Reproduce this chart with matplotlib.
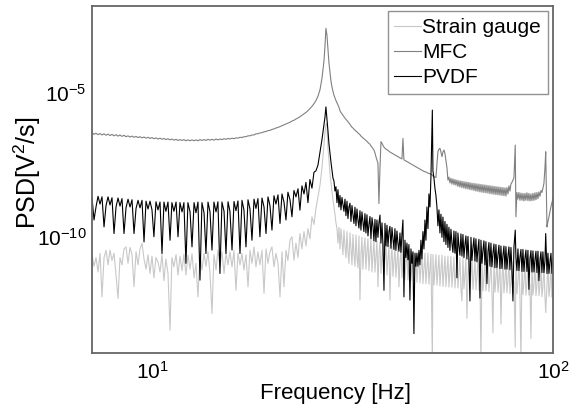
import numpy as np
import matplotlib
matplotlib.use("Agg")
import matplotlib.pyplot as plt
from matplotlib.ticker import NullLocator, FixedLocator, LogFormatterSciNotation

plt.rcParams['font.family'] = ['Liberation Sans', 'DejaVu Sans']
plt.rcParams['mathtext.default'] = 'regular'

# ---------------- data: shared frequency grid (Hz), PSD as log10(V^2/s) ----------------
freq_hz = [
    7.077, 7.159, 7.242, 7.326, 7.410,
    7.496, 7.583, 7.671, 7.760, 7.848,
    7.939, 8.031, 8.124, 8.218, 8.312,
    8.408, 8.506, 8.604, 8.704, 8.804,
    8.906, 9.009, 9.114, 9.219, 9.324,
    9.432, 9.542, 9.652, 9.764, 9.874,
    9.989, 10.10, 10.22, 10.34, 10.46,
    10.58, 10.70, 10.82, 10.95, 11.08,
    11.20, 11.33, 11.47, 11.60, 11.73,
    11.87, 12.00, 12.14, 12.28, 12.43,
    12.57, 12.72, 12.86, 13.01, 13.16,
    13.31, 13.47, 13.62, 13.78, 13.94,
    14.10, 14.26, 14.43, 14.59, 14.76,
    14.93, 15.11, 15.28, 15.46, 15.63,
    15.82, 16.00, 16.18, 16.37, 16.56,
    16.75, 16.94, 17.14, 17.34, 17.54,
    17.74, 17.95, 18.15, 18.36, 18.57,
    18.79, 19.01, 19.23, 19.45, 19.67,
    19.90, 20.13, 20.36, 20.60, 20.84,
    21.08, 21.32, 21.57, 21.81, 22.07,
    22.32, 22.58, 22.84, 23.11, 23.37,
    23.64, 23.92, 24.19, 24.47, 24.75,
    25.04, 25.33, 25.62, 25.92, 26.22,
    26.52, 26.83, 26.98, 27.13,
    27.29, 27.44, 27.60, 27.77, 27.93, 28.09, 28.25, 28.41, 28.58, 28.74,
    28.91, 29.07, 29.24, 29.41, 29.58, 29.75, 29.92, 30.09, 30.27, 30.44,
    30.62, 30.79, 30.97, 31.15, 31.33, 31.51, 31.69, 31.87, 32.06, 32.24,
    32.43, 32.61, 32.80, 32.99, 33.18, 33.37, 33.56, 33.75, 33.95, 34.14,
    34.34, 34.54, 34.74, 34.94, 35.14, 35.35, 35.55, 35.75, 35.96, 36.16,
    36.37, 36.58, 36.79, 37.01, 37.22, 37.44, 37.65, 37.87, 38.09, 38.31,
    38.53, 38.75, 38.97, 39.19, 39.42, 39.65, 39.87, 40.10, 40.33, 40.56,
    40.80, 41.03, 41.27, 41.51, 41.75, 41.99, 42.23, 42.47, 42.72, 42.96,
    43.21, 43.46, 43.71, 43.96, 44.22, 44.47, 44.73, 44.98, 45.24, 45.50,
    45.77, 46.03, 46.30, 46.56, 46.83, 47.10, 47.37, 47.65, 47.92, 48.19,
    48.47, 48.75, 49.03, 49.32, 49.60, 50.00, 50.17, 50.46, 50.75, 51.04,
    51.34, 51.63, 51.93, 52.23, 52.53, 52.84, 53.14, 53.45, 53.76, 54.06,
    54.38, 54.69, 55.00, 55.32, 55.64, 55.96, 56.28, 56.61, 56.93, 57.26,
    57.59, 57.92, 58.25, 58.59, 58.93, 59.27, 59.61, 59.95, 60.30, 60.64,
    60.99, 61.35, 61.70, 62.06, 62.42, 62.78, 63.14, 63.50, 63.87, 64.23,
    64.60, 64.98, 65.35, 65.73, 66.11, 66.49, 66.87, 67.25, 67.64, 68.03,
    68.42, 68.82, 69.21, 69.61, 70.01, 70.42, 70.82, 71.23, 71.64, 72.05,
    72.47, 72.89, 73.31, 73.73, 74.15, 74.58, 75.01, 75.44, 75.88, 76.31,
    76.75, 77.19, 77.64, 78.09, 78.54, 78.99, 79.44, 79.90, 80.50, 80.82,
    81.29, 81.76, 82.23, 82.70, 83.18, 83.66, 84.14, 84.62, 85.11, 85.60,
    86.09, 86.59, 87.09, 87.59, 88.10, 88.61, 89.12, 89.63, 90.15, 90.67,
    91.19, 91.72, 92.24, 92.77, 93.31, 93.84, 94.38, 94.93, 95.48, 95.90,
    96.59, 97.14, 97.70, 98.26, 98.83, 99.39, 100.0]

strain_gauge_log_psd = [
    -10.60, -11.00, -10.70, -11.20, -10.55,
    -12.06, -10.70, -10.45, -10.95, -10.44,
    -10.80, -10.55, -11.30, -12.11, -10.70,
    -10.95, -10.40, -10.33, -10.90, -10.35,
    -10.60, -11.71, -10.50, -10.95, -10.40,
    -10.21, -10.75, -11.10, -10.60, -11.25,
    -10.65, -11.40, -10.70, -10.85, -11.20,
    -10.60, -11.50, -10.75, -11.25, -13.21,
    -10.70, -11.02, -10.60, -11.30, -10.65,
    -11.15, -10.58, -11.30, -10.62, -11.10,
    -10.56, -11.40, -10.90, -12.06, -10.60,
    -11.13, -10.56, -11.00, -10.50, -11.25,
    -12.63, -10.60, -11.13, -10.44, -11.00,
    -10.50, -11.25, -10.55, -10.95, -10.50,
    -11.02, -10.46, -11.83, -10.55, -10.95,
    -10.56, -11.13, -10.60, -11.71, -10.45,
    -10.90, -10.33, -11.02, -10.50, -10.95,
    -10.45, -11.94, -10.40, -10.90, -10.50,
    -10.33, -11.02, -10.55, -10.90, -12.06,
    -10.50, -11.71, -10.45, -10.80, -10.10,
    -9.98, -10.79, -10.20, -10.70, -9.87,
    -10.40, -9.80, -10.30, -9.70, -10.05,
    -9.29, -9.55, -9.00, -8.60, -8.20,
    -7.60, -6.80, -6.40, -6.10,
    -6.05, -6.90, -7.30, -7.80, -8.10, -8.40, -8.70, -8.95, -9.20, -9.50,
    -9.70, -10.20, -9.65, -10.40, -9.70, -10.10, -10.60, -9.75, -10.30, -10.70,
    -9.80, -10.50, -10.90, -9.85, -10.40, -10.95, -9.90, -10.60, -11.00, -9.92,
    -10.70, -11.05, -9.95, -12.17, -10.60, -10.00, -11.10, -10.40, -10.02, -11.10,
    -10.50, -10.05, -11.15, -10.55, -10.08, -11.20, -10.60, -10.10, -11.20, -10.65,
    -10.12, -11.71, -10.60, -10.15, -11.25, -10.65, -10.20, -11.25, -10.70, -10.25,
    -11.30, -10.75, -10.28, -12.17, -10.80, -10.30, -11.35, -10.82, -10.32, -11.38,
    -10.85, -10.35, -11.71, -10.88, -10.38, -11.40, -10.90, -10.40, -11.45, -10.92,
    -10.45, -11.48, -10.95, -10.48, -11.50, -10.98, -10.50, -11.52, -11.00, -10.52,
    -11.55, -11.02, -10.53, -11.58, -11.05, -10.54, -11.60, -11.05, -10.55, -11.60,
    -11.08, -10.55, -11.62, -11.10, -10.58, -14.30, -10.60, -11.65, -11.10, -10.60,
    -11.65, -11.12, -10.62, -11.68, -11.15, -10.62, -11.70, -11.15, -10.65, -11.70,
    -11.18, -10.65, -11.72, -11.20, -10.66, -11.72, -11.20, -10.68, -11.75, -11.22,
    -10.68, -11.75, -11.25, -10.70, -11.78, -12.20, -10.70, -11.78, -11.28, -10.72,
    -12.80, -11.30, -10.72, -11.80, -11.30, -10.74, -11.80, -11.32, -10.75, -11.82,
    -11.35, -10.75, -11.83, -11.35, -14.30, -10.76, -11.85, -11.38, -10.77, -11.85,
    -11.40, -10.78, -11.88, -11.40, -10.78, -11.88, -13.30, -10.79, -11.90, -11.42,
    -10.80, -11.90, -11.45, -10.80, -13.00, -11.45, -10.81, -11.92, -11.48, -10.82,
    -11.92, -11.50, -10.83, -11.95, -11.50, -10.84, -11.95, -11.52, -13.80, -10.85,
    -11.95, -11.55, -10.85, -11.98, -14.30, -10.86, -11.98, -11.58, -10.87, -12.00,
    -11.60, -10.88, -12.00, -11.62, -13.50, -10.88, -12.00, -11.65, -10.89, -12.02,
    -11.65, -10.90, -12.02, -11.68, -10.90, -12.05, -11.70, -10.90, -12.05, -12.60,
    -11.70, -10.92, -12.05, -11.72, -10.92, -12.08, -11.83]

mfc_log_psd = [
    -6.38, -6.44, -6.40, -6.45, -6.41,
    -6.46, -6.42, -6.47, -6.43, -6.48,
    -6.44, -6.49, -6.45, -6.50, -6.46,
    -6.51, -6.47, -6.52, -6.49, -6.53,
    -6.50, -6.54, -6.51, -6.55, -6.52,
    -6.56, -6.53, -6.57, -6.54, -6.58,
    -6.55, -6.59, -6.56, -6.60, -6.57,
    -6.61, -6.58, -6.62, -6.59, -6.63,
    -6.60, -6.64, -6.61, -6.65, -6.62,
    -6.65, -6.62, -6.66, -6.63, -6.66,
    -6.63, -6.66, -6.63, -6.66, -6.62,
    -6.65, -6.62, -6.65, -6.61, -6.64,
    -6.61, -6.64, -6.60, -6.63, -6.60,
    -6.62, -6.59, -6.61, -6.58, -6.60,
    -6.57, -6.59, -6.56, -6.57, -6.54,
    -6.55, -6.52, -6.52, -6.49, -6.49,
    -6.46, -6.46, -6.42, -6.42, -6.39,
    -6.38, -6.35, -6.34, -6.31, -6.30,
    -6.27, -6.25, -6.22, -6.20, -6.17,
    -6.14, -6.11, -6.08, -6.05, -6.02,
    -5.98, -5.95, -5.91, -5.87, -5.83,
    -5.78, -5.73, -5.68, -5.62, -5.55,
    -5.47, -5.38, -5.27, -5.12, -4.90,
    -4.50, -3.90, -3.40, -2.77,
    -3.00, -3.45, -3.95, -4.30, -4.60, -4.80, -4.95, -5.08, -5.18, -5.27,
    -5.35, -5.42, -5.50, -5.62, -5.68, -5.73, -5.78, -5.83, -5.88, -5.92,
    -5.96, -6.00, -6.05, -6.09, -6.15, -6.19, -6.22, -6.26, -6.29, -6.33,
    -6.35, -6.39, -6.42, -6.45, -6.50, -6.53, -6.56, -6.59, -6.62, -6.65,
    -6.68, -6.72, -6.75, -6.78, -6.84, -6.88, -6.93, -6.98, -7.08, -7.21,
    -7.32, -7.44, -8.83, -7.60, -6.69, -6.75, -6.82, -6.88, -6.92, -6.95,
    -6.97, -7.00, -7.02, -7.05, -7.07, -7.09, -7.11, -7.13, -7.15, -7.17,
    -7.19, -7.21, -7.23, -7.25, -7.27, -7.29, -6.58, -7.32, -7.34, -7.36,
    -7.38, -7.40, -7.42, -7.44, -7.46, -7.48, -7.50, -7.52, -7.54, -7.56,
    -7.58, -7.60, -7.62, -7.64, -7.66, -7.68, -7.70, -7.72, -7.73, -7.74,
    -7.76, -7.78, -7.79, -7.80, -7.82, -7.85, -7.88, -7.90, -7.92, -7.93,
    -7.50, -7.04, -6.95, -6.92, -7.05, -7.21, -7.05, -6.98, -7.10, -7.33,
    -7.60, -8.02, -7.92, -8.12, -7.96, -8.16, -7.98, -8.18, -8.00, -8.20,
    -8.02, -8.24, -8.04, -8.26, -8.05, -8.28, -8.07, -8.30, -8.08, -8.32,
    -8.09, -8.33, -8.10, -8.35, -8.12, -8.36, -8.13, -8.38, -8.14, -8.40,
    -8.15, -8.41, -8.16, -8.43, -8.17, -8.44, -8.18, -8.45, -8.19, -8.46,
    -8.20, -8.47, -8.21, -8.49, -8.22, -8.50, -8.23, -8.51, -8.24, -8.52,
    -8.25, -8.53, -8.26, -8.54, -8.27, -8.55, -8.28, -8.56, -8.29, -8.57,
    -8.28, -8.50, -8.22, -8.40, -8.15, -8.10, -8.02, -7.95, -6.81, -9.29,
    -8.45, -8.68, -8.45, -8.72, -8.47, -8.72, -8.48, -8.74, -8.48, -8.72,
    -8.46, -8.73, -8.48, -8.74, -8.50, -8.73, -8.48, -8.72, -8.46, -8.70,
    -8.45, -8.66, -8.43, -8.58, -8.38, -8.45, -8.30, -8.13, -7.60, -7.04,
    -9.64, -9.45, -9.30, -9.12, -8.94, -8.80, -8.65]

pvdf_log_psd = [
    -8.62, -9.40, -8.95, -8.58, -8.85,
    -8.60, -9.64, -8.90, -8.60, -8.88,
    -8.63, -9.87, -8.95, -8.64, -8.92,
    -8.66, -9.87, -8.98, -8.68, -8.95,
    -8.70, -9.87, -9.00, -8.72, -8.98,
    -8.72, -10.16, -8.75, -9.02, -8.75,
    -9.05, -9.98, -8.77, -9.05, -8.78,
    -10.56, -8.78, -9.10, -8.78, -10.10,
    -8.80, -9.10, -8.78, -9.98, -8.80,
    -9.12, -8.80, -10.90, -8.80, -9.12,
    -10.33, -8.80, -9.15, -8.78, -11.48,
    -8.80, -9.15, -10.56, -8.78, -9.12,
    -10.44, -8.78, -9.12, -8.77, -11.25,
    -8.78, -9.10, -10.56, -8.77, -9.10,
    -10.44, -8.76, -9.08, -8.74, -10.56,
    -8.72, -9.05, -10.33, -8.70, -9.02,
    -10.10, -8.68, -9.00, -8.66, -9.98,
    -8.64, -8.95, -9.87, -8.60, -8.90,
    -9.75, -8.56, -8.85, -8.53, -9.52,
    -8.50, -8.78, -9.40, -8.44, -8.70,
    -9.29, -8.38, -8.60, -8.32, -9.06,
    -8.22, -8.50, -8.10, -8.80, -8.00,
    -8.30, -7.75, -7.70, -7.50, -7.05,
    -6.62, -6.10, -5.85, -5.49,
    -5.90, -6.29, -6.75, -7.09, -7.40, -7.67, -7.95, -8.05, -8.40, -8.25,
    -8.80, -8.35, -8.95, -8.55, -9.05, -8.62, -8.85, -9.10, -8.68, -9.25,
    -8.75, -9.35, -8.95, -8.82, -9.45, -8.90, -9.20, -9.52, -8.96, -9.60,
    -9.02, -9.40, -9.68, -9.08, -9.75, -9.12, -9.45, -9.80, -9.18, -9.85,
    -9.22, -9.95, -9.55, -9.28, -10.05, -9.32, -9.60, -10.12, -9.38, -10.15,
    -9.40, -10.00, -9.50, -9.23, -10.20, -9.50, -10.25, -11.83, -9.52, -10.30,
    -9.58, -10.32, -9.80, -9.62, -10.38, -9.66, -10.05, -10.42, -9.70, -10.45,
    -9.78, -10.20, -10.48, -9.85, -10.52, -9.88, -9.40, -12.06, -10.10, -10.70,
    -10.20, -10.78, -10.25, -12.17, -10.40, -10.90, -10.50, -13.33, -10.55, -11.00,
    -10.55, -11.00, -10.45, -10.95, -10.10, -10.75, -9.80, -10.40, -9.40, -10.10,
    -8.95, -9.70, -8.50, -8.95, -7.90, -5.60, -7.70, -7.95, -8.30, -8.55,
    -8.95, -9.60, -9.05, -9.85, -9.20, -10.00, -9.30, -10.15, -9.45, -10.25,
    -9.55, -10.35, -9.65, -10.45, -9.72, -10.20, -10.52, -9.78, -10.55, -9.80,
    -11.40, -9.85, -10.30, -10.62, -9.88, -10.65, -9.90, -10.70, -10.25, -9.95,
    -10.75, -9.97, -10.78, -12.20, -10.00, -10.80, -10.35, -10.02, -10.82, -10.05,
    -10.85, -10.40, -10.07, -12.10, -10.10, -10.90, -10.45, -10.12, -10.95, -10.15,
    -11.60, -10.50, -10.18, -11.00, -10.20, -11.02, -10.55, -10.23, -11.05, -10.25,
    -11.05, -10.60, -10.27, -11.08, -10.30, -11.08, -10.62, -10.30, -11.10, -10.32,
    -11.10, -10.65, -10.33, -11.12, -10.35, -11.12, -12.20, -10.35, -9.75, -10.70,
    -11.15, -10.40, -11.15, -10.70, -10.42, -11.18, -10.42, -11.18, -10.72, -10.44,
    -11.18, -10.45, -11.80, -10.75, -10.46, -11.20, -10.47, -11.20, -10.78, -10.48,
    -11.22, -10.48, -11.50, -10.80, -10.50, -11.22, -10.50, -11.22, -10.82, -9.87,
    -11.25, -10.55, -11.25, -10.85, -10.55, -11.25, -10.70]

series_labels = ['Strain gauge', 'MFC', 'PVDF']
series_colors = ['#c8c8c8', '#808080', '#000000']
x_ticks = [10, 100]
y_ticks = [1e-10, 1e-5]

# ---------------- figure ----------------
fig = plt.figure(figsize=(5.69, 4.09), dpi=100)
ax = fig.add_axes([92/569, 1-353/409, 461/569, 347/409])

f = np.array(freq_hz)
for vals, lab, col in zip([strain_gauge_log_psd, mfc_log_psd, pvdf_log_psd],
                          series_labels, series_colors):
    ax.plot(f, 10.0 ** np.array(vals), color=col, lw=0.8, label=lab)

ax.set_xscale('log')
ax.set_yscale('log')
ax.set_xlim(7.077, 100)
ax.set_ylim(1e-14, 1e-2)
ax.xaxis.set_major_locator(FixedLocator(x_ticks))
ax.yaxis.set_major_locator(FixedLocator(y_ticks))
ax.xaxis.set_minor_locator(NullLocator())
ax.yaxis.set_minor_locator(NullLocator())
ax.xaxis.set_major_formatter(LogFormatterSciNotation())
ax.yaxis.set_major_formatter(LogFormatterSciNotation())
ax.tick_params(axis='both', length=0, labelsize=15)
ax.tick_params(axis='x', pad=6)
ax.tick_params(axis='y', pad=4)
for s in ax.spines.values():
    s.set_color('#666666')
    s.set_linewidth(1.3)

ax.set_xlabel('Frequency [Hz]', fontsize=16)
ax.xaxis.set_label_coords(0.529, -0.086)
ax.set_ylabel('PSD[V$^{2}$/s]', fontsize=18)
ax.yaxis.set_label_coords(-0.106, 0.52)

leg = ax.legend(loc='upper right', fontsize=15, frameon=True, fancybox=False,
                edgecolor='#777777', handlelength=1.3, handletextpad=0.05,
                labelspacing=0.3, borderpad=0.32, borderaxespad=0.25)
leg.get_frame().set_linewidth(1.0)

fig.savefig('out.png', dpi=100)
